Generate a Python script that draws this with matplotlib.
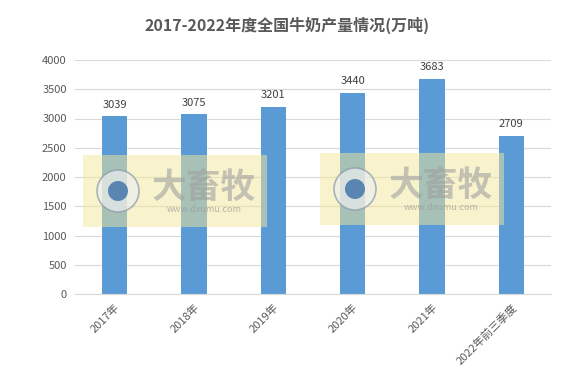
import matplotlib
matplotlib.use("Agg")
import matplotlib.pyplot as plt
from matplotlib.patches import Rectangle, Circle

plt.rcParams['font.family'] = ['Noto Sans CJK SC', 'DejaVu Sans']

categories = ["2017年", "2018年", "2019年", "2020年", "2021年", "2022年前三季度"]
values = [3039, 3075, 3201, 3440, 3683, 2709]
yticks = [0, 500, 1000, 1500, 2000, 2500, 3000, 3500, 4000]
title = "2017-2022年度全国牛奶产量情况(万吨)"

fig = plt.figure(figsize=(5.74, 3.78), dpi=100)
ax = fig.add_axes([75/574, 1-294/378, 476/574, 234/378])

x = list(range(len(categories)))
ax.bar(x, values, width=0.32, color="#5b9bd5", zorder=2)
for xi, v in zip(x, values):
    ax.text(xi, v + 110, str(v), ha="center", va="bottom", fontsize=8, color="#404040")

ax.set_xlim(-0.5, len(categories) - 0.5)
ax.set_ylim(0, 4000)
ax.set_yticks(yticks)
ax.set_yticklabels([str(t) for t in yticks], fontsize=8, color="#595959")
ax.set_xticks(x)
ax.set_xticklabels(categories, rotation=45, ha="right", rotation_mode="anchor",
                   fontsize=8, color="#595959")
ax.tick_params(axis="both", length=0, pad=6)
ax.grid(axis="y", color="#d9d9d9", linewidth=0.8, zorder=0)
for s in ["top", "right", "left"]:
    ax.spines[s].set_visible(False)
ax.spines["bottom"].set_color("#d9d9d9")

fig.text(0.5, 1-25/378, title, ha="center", va="center", fontsize=11.5,
         fontweight="bold", color="#595959")

# watermark overlays
for (x0, y0) in [(83, 155), (320, 153)]:
    w, h = 184, 72
    fig.patches.append(Rectangle((x0/574, 1-(y0+h)/378), w/574, h/378,
                                 transform=fig.transFigure, facecolor="#f3e89a",
                                 alpha=0.5, edgecolor="none", zorder=5))
    fig.patches.append(Circle((x0 + 35, 378 - (y0 + 36)), 21, transform=None,
                              facecolor="#eeeeee", edgecolor="#8899aa", alpha=0.7,
                              linewidth=1.2, zorder=6))
    fig.patches.append(Circle((x0 + 35, 378 - (y0 + 36)), 10, transform=None,
                              facecolor="#3a6ea5", alpha=0.8, zorder=7))
    fig.text((x0 + 121)/574, 1-(y0 + 32)/378, "大畜牧", ha="center", va="center",
             fontsize=25, fontweight="bold", color="#a0a0a0", alpha=0.6, zorder=8)
    fig.text((x0 + 121)/574, 1-(y0 + 55)/378, "www.dxumu.com", ha="center", va="center",
             fontsize=6.5, color="#999999", alpha=0.7, zorder=8)

fig.savefig("out.png", dpi=100)
